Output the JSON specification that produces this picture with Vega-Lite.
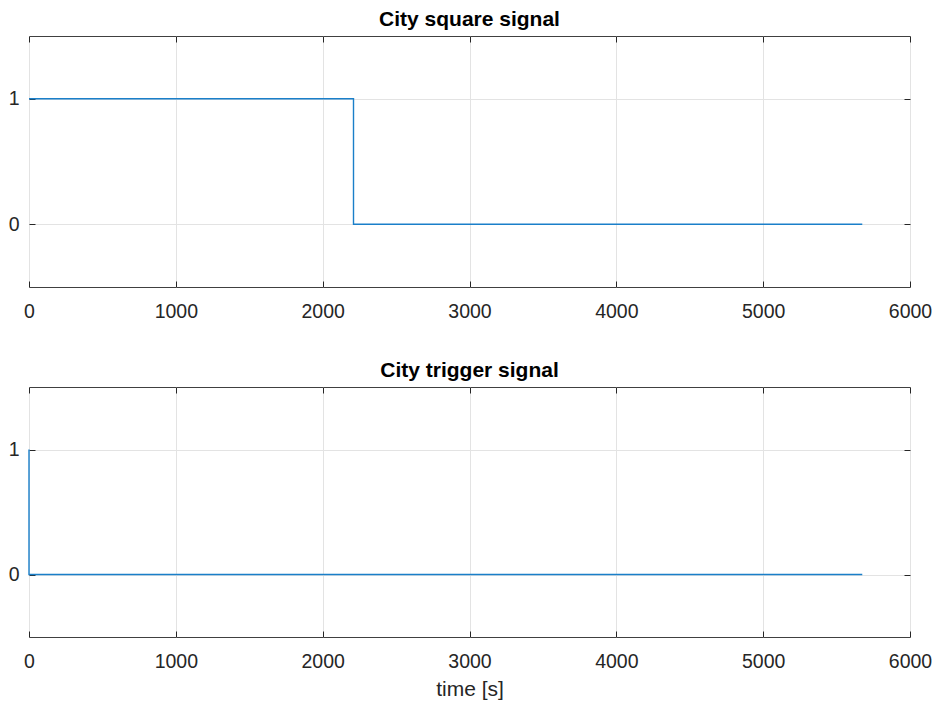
{
  "$schema": "https://vega.github.io/schema/vega-lite/v6.json",
  "background": "white",
  "padding": {"left": 7, "top": 8, "right": 5, "bottom": 5},
  "datasets": {
    "square": [
      {"i": 0, "t": 0, "v": 1},
      {"i": 1, "t": 2210, "v": 1},
      {"i": 2, "t": 2210, "v": 0},
      {"i": 3, "t": 5675, "v": 0}
    ],
    "trigger": [
      {"i": 0, "t": 0, "v": 1},
      {"i": 1, "t": 0, "v": 0},
      {"i": 2, "t": 5675, "v": 0}
    ]
  },
  "vconcat": [
    {
      "title": "City square signal",
      "width": 881,
      "height": 251,
      "data": {"name": "square"},
      "layer": [
        {
          "mark": {"type": "line", "color": "#1a7fc9", "strokeWidth": 1.4},
          "encoding": {
            "x": {"field": "t", "type": "quantitative", "scale": {"domain": [0, 6000], "nice": false},
                  "axis": {"values": [0, 1000, 2000, 3000, 4000, 5000, 6000], "format": "d", "title": null}},
            "y": {"field": "v", "type": "quantitative", "scale": {"domain": [-0.5, 1.5], "nice": false},
                  "axis": {"values": [0, 1], "format": "d", "title": null}},
            "order": {"field": "i"}
          }
        },
        {
          "mark": {"type": "line", "opacity": 0},
          "encoding": {
            "x": {"field": "t", "type": "quantitative",
                  "axis": {"orient": "top", "values": [0, 1000, 2000, 3000, 4000, 5000, 6000], "labels": false, "grid": false, "title": null}},
            "y": {"field": "v", "type": "quantitative",
                  "axis": {"orient": "right", "values": [0, 1], "labels": false, "grid": false, "title": null}},
            "order": {"field": "i"}
          }
        }
      ],
      "resolve": {"axis": {"x": "independent", "y": "independent"}}
    },
    {
      "title": "City trigger signal",
      "width": 881,
      "height": 250,
      "data": {"name": "trigger"},
      "layer": [
        {
          "mark": {"type": "line", "color": "#1a7fc9", "strokeWidth": 1.4},
          "encoding": {
            "x": {"field": "t", "type": "quantitative", "scale": {"domain": [0, 6000], "nice": false},
                  "axis": {"values": [0, 1000, 2000, 3000, 4000, 5000, 6000], "format": "d", "title": "time [s]"}},
            "y": {"field": "v", "type": "quantitative", "scale": {"domain": [-0.5, 1.5], "nice": false},
                  "axis": {"values": [0, 1], "format": "d", "title": null}},
            "order": {"field": "i"}
          }
        },
        {
          "mark": {"type": "line", "opacity": 0},
          "encoding": {
            "x": {"field": "t", "type": "quantitative",
                  "axis": {"orient": "top", "values": [0, 1000, 2000, 3000, 4000, 5000, 6000], "labels": false, "grid": false, "title": null}},
            "y": {"field": "v", "type": "quantitative",
                  "axis": {"orient": "right", "values": [0, 1], "labels": false, "grid": false, "title": null}},
            "order": {"field": "i"}
          }
        }
      ],
      "resolve": {"axis": {"x": "independent", "y": "independent"}}
    }
  ],
  "spacing": 38,
  "config": {
    "font": "Liberation Sans",
    "view": {"stroke": "#404040", "strokeWidth": 1},
    "axis": {
      "domain": false,
      "labelFont": "Liberation Sans",
      "labelFontSize": 19.5,
      "labelColor": "#262626",
      "labelPadding": 21,
      "labelFlush": false,
      "labelOverlap": false,
      "tickColor": "#262626",
      "tickSize": -6,
      "gridColor": "#e3e3e3",
      "titleFont": "Liberation Sans",
      "titleFontSize": 21,
      "titleFontWeight": "normal",
      "titleColor": "#262626",
      "titlePadding": 8
    },
    "axisY": {"labelPadding": 16},
    "title": {"font": "Liberation Sans", "fontSize": 21, "fontWeight": "bold", "color": "#000000", "offset": 6}
  }
}
